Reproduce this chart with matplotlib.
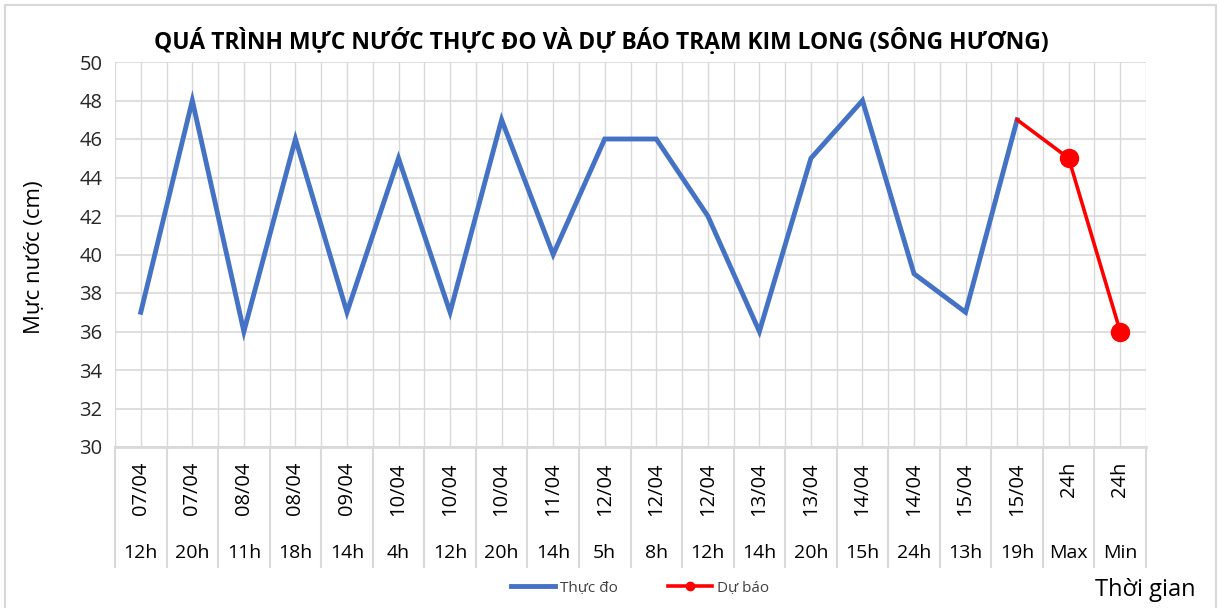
import matplotlib
matplotlib.use("Agg")
import matplotlib.pyplot as plt
from matplotlib.lines import Line2D
from matplotlib.patches import Rectangle
import matplotlib.transforms as mtransforms

plt.rcParams['font.family'] = ['Open Sans', 'DejaVu Sans']

dates = ["07/04", "07/04", "08/04", "08/04", "09/04", "10/04", "10/04", "10/04",
         "11/04", "12/04", "12/04", "12/04", "13/04", "13/04", "14/04", "14/04",
         "15/04", "15/04", "24h", "24h"]
hours = ["12h", "20h", "11h", "18h", "14h", "4h", "12h", "20h", "14h", "5h",
         "8h", "12h", "14h", "20h", "15h", "24h", "13h", "19h", "Max", "Min"]
observed = [37, 48, 36, 46, 37, 45, 37, 47, 40, 46, 46, 42, 36, 45, 48, 39, 37, 47]
forecast = [47, 45, 36]
forecast_start = 17

title = "QUÁ TRÌNH MỰC NƯỚC THỰC ĐO VÀ DỰ BÁO TRẠM KIM LONG (SÔNG HƯƠNG)"

W, H = 1221, 608
fig = plt.figure(figsize=(W / 100, H / 100), dpi=100)
ax = fig.add_axes([115 / W, 1 - 447 / H, (1146 - 115) / W, (447 - 62) / H])

n = len(dates)
x_obs = list(range(len(observed)))
x_fc = list(range(forecast_start, forecast_start + len(forecast)))

grid_c = "#D9D9D9"
ax.set_xlim(-0.5, n - 0.5)
ax.set_ylim(30, 50)
ax.set_yticks(range(30, 51, 2))
for v in range(30, 51, 2):
    ax.axhline(v, color=grid_c, lw=1.2, zorder=0)
for k in range(2 * n + 1):
    ax.axvline(-0.5 + k * 0.5, color=grid_c, lw=1.0, zorder=0)

ax.plot(x_obs, observed, color="#4472C4", lw=3.5, solid_joinstyle="miter", zorder=3)
ax.plot(x_fc, forecast, color="#FF0000", lw=2.6, marker="o", markersize=13,
        markevery=[1, 2], zorder=4)

for s in ax.spines.values():
    s.set_visible(False)
ax.tick_params(axis="both", length=0)
ax.set_xticks([])
ax.tick_params(axis="y", labelsize=14.5, pad=9)
for lab in ax.get_yticklabels():
    lab.set_color("#262626")

# category area
trans = mtransforms.blended_transform_factory(ax.transData, ax.transAxes)
px = 1 / (447 - 62)
bottom_sep = -(567 - 447) * px
ax.plot([-0.5, n - 0.5], [0, 0], transform=trans, color=grid_c, lw=2.0, clip_on=False, zorder=2)
for k in range(n + 1):
    ax.plot([-0.5 + k, -0.5 + k], [0, bottom_sep], transform=trans, color=grid_c,
            lw=1.5, clip_on=False)
for i in range(n):
    ax.text(i, -(462 - 447) * px, dates[i], transform=trans, rotation=90,
            ha="center", va="top", fontsize=14.5, color="#000000")
    ax.text(i, -(553 - 447) * px, hours[i], transform=trans,
            ha="center", va="center", fontsize=14, color="#000000")

fig.text(35 / W, 1 - 257 / H, "Mực nước (cm)", rotation=90, ha="center", va="center",
         fontsize=16, color="#000000")
fig.text(601 / W, 1 - 41 / H, title, ha="center", va="center", fontsize=16.5,
         fontweight="bold", color="#000000")
fig.text(1145 / W, 1 - 590 / H, "Thời gian", ha="center", va="center",
         fontsize=17, color="#000000")

handles = [Line2D([], [], color="#4472C4", lw=3.5),
           Line2D([], [], color="#FF0000", lw=2.6, marker="o", markersize=6)]
leg = fig.legend(handles, ["Thực đo", "Dự báo"], loc="center",
                 bbox_to_anchor=(640 / W, 1 - 588 / H),
                 ncol=2, frameon=False, fontsize=11, handlelength=2.9, handletextpad=0.3,
                 columnspacing=3.3)
for t in leg.get_texts():
    t.set_color("#404040")

fig.patches.append(Rectangle((5 / W, -0.02), 1 - 10 / W, 1 - 5 / H + 0.02,
                             transform=fig.transFigure, fill=False,
                             edgecolor="#D9D9D9", lw=1.5))

fig.savefig("out.png", dpi=100)
